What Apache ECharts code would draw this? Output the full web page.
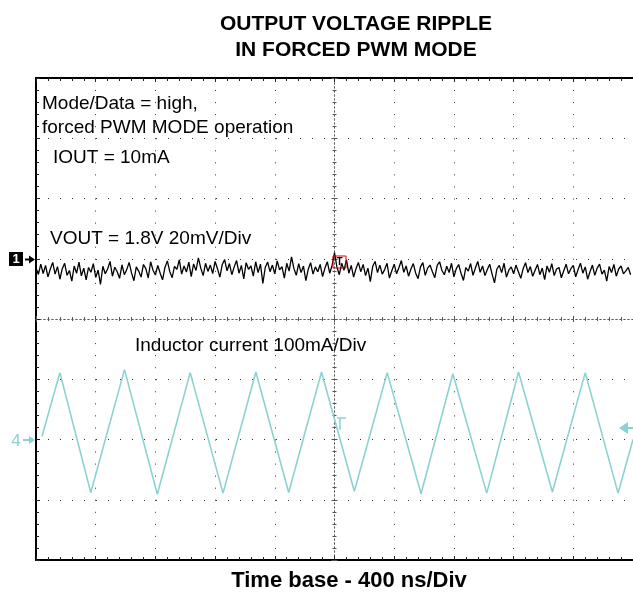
<!DOCTYPE html>
<html><head><meta charset="utf-8">
<script src="https://cdn.jsdelivr.net/npm/echarts@6/dist/echarts.min.js"></script>
<style>html,body{margin:0;padding:0;background:#fff}#c{width:633px;height:593px}</style>
</head><body><div id="c"></div>
<script>
// ---- text ----
const TITLE_LINES = ['OUTPUT VOLTAGE RIPPLE', 'IN FORCED PWM MODE'];
const X_LABEL = 'Time base - 400 ns/Div';
const NOTE_TEXTS = ['Mode/Data = high,', 'forced PWM MODE operation', 'IOUT = 10mA',
  'VOUT = 1.8V 20mV/Div', 'Inductor current 100mA/Div'];

// ---- scales ----
const TIME_PER_DIV_NS = 400;
const DIVS_X = 10;
const DIVS_Y = 8;
const VOUT_MV_PER_DIV = 20;
const IL_MA_PER_DIV = 100;

// ---- channel 1: output voltage ripple (mV vs. channel marker, one sample per 16 ns) ----
const VOUT_STEP_NS = 16;
const VOUT_MV = [
  -3.0,-5.2,-1.8,-4.9,-2.2,-6.0,-3.4,-1.2,-5.1,-2.6,-6.8,-3.3,-1.5,-5.5,-3.9,-7.4,-2.4,-4.8,-1.1,-5.7,-3.1,-7.0,-2.9,-4.5,-1.6,
  -6.2,-3.8,-8.5,-2.5,-5.0,-3.4,-0.9,-5.8,-2.8,-4.3,-6.5,-2.0,-5.3,-3.6,-1.2,-4.7,-7.3,-2.7,-4.1,-6.1,-1.9,-3.3,-6.4,-1.0,-3.8,
  -5.4,-2.2,-4.8,-7.0,-2.9,-0.7,-4.2,-6.3,-2.5,-3.5,-0.4,-5.1,-2.4,-4.4,-1.1,-5.9,-1.7,-3.9, 0.3,-3.1,-5.6,-1.5,-4.2,-2.1,-4.9,
  -0.9,-3.3,-6.1,-1.9,-0.3,-4.0,-1.6,-5.3,-2.7,-0.6,-4.8,-2.2,-6.7,-1.3,-3.5,-2.4,-5.8,-1.0,-4.6,-1.8,-8.2,-2.9,-1.1,-4.3,-2.1,
  -5.0,-0.7,-3.7,-2.6,-6.4,-1.5,-4.1, 0.6,-3.2,-5.5,-1.6,-4.6,-2.4,-7.3,-3.5,-1.3,-5.1,-2.7,-4.3,-1.9,-5.9,-3.1,-1.0,-4.8,-2.2,
   2.0,-2.7,-5.3,-1.5,-3.8,-0.4,-4.8,-2.2,-6.1,-3.3,-1.2,-4.3,-1.9,-5.6,-3.1,-7.6,-2.5,-0.9,-4.6,-2.1,-5.1,-3.6,-1.5,-6.4,-4.0,
  -1.8,-5.0,-2.9,-0.6,-4.5,-2.4,-5.8,-3.4,-1.6,-4.8,-6.6,-2.7,-1.3,-5.5,-3.1,-2.1,-4.3,-6.3,-2.2,-1.0,-3.9,-5.3,-2.5,-4.6,-1.5,
  -6.0,-3.3,-1.9,-4.8,-7.2,-2.9,-4.1,-1.6,-5.5,-3.1,-0.9,-4.5,-2.4,-5.6,-3.6,-1.8,-5.1,-8.0,-3.4,-2.2,-4.6,-1.5,-6.1,-3.8,-2.7,
  -5.0,-2.1,-4.3,-6.5,-3.3,-1.3,-4.6,-2.6,-5.8,-3.8,-1.9,-5.3,-3.1,-6.9,-2.4,-4.5,-1.6,-5.6,-3.4,-2.9,-6.3,-4.0,-1.8,-5.0,-3.3,
  -2.2,-6.0,-3.6,-1.5,-4.8,-2.7,-6.8,-4.3,-2.1,-5.5,-3.1,-1.8,-5.1,-3.8,-7.4,-2.6,-4.6,-1.9,-5.8,-3.4,-2.4,-5.0,-4.0,-2.9,-5.3
];

// ---- channel 4: inductor current (vertices of the triangle wave) ----
const IL_TIME_NS = [40, 160, 367, 593, 813, 1033, 1253, 1473, 1693, 1913, 2133, 2353, 2580, 2793, 3020, 3233, 3460, 3680, 3900, 4000];
const IL_MA      = [ 5, 111, -88, 116, -91,  111,  -89,  112,  -88,  112,  -86,  111,  -90,  109,  -89,  112,  -87,  111,  -89,    0];

// channel marker positions (divisions from screen centre)
const CH1_POS_DIV = 1.0;
const CH4_POS_DIV = -2.0;

const CYAN = '#8dd2d2';
const GRID = {left: 36, top: 78, width: 600, height: 482};

const voutData = VOUT_MV.map((v, i) => [i * VOUT_STEP_NS, CH1_POS_DIV + v / VOUT_MV_PER_DIV]);
const ilData = IL_TIME_NS.map((t, i) => [t, CH4_POS_DIV + IL_MA[i] / IL_MA_PER_DIV]);

const XMAX = TIME_PER_DIV_NS * DIVS_X;
const dotV = {color: '#333', width: 1, type: [1, 11.05]};
const dotH = {color: '#333', width: 1, type: [1, 11]};

function centerAxis(gi, inside, half) {
  return {gridIndex: gi, type: 'value', min: -half, max: half, interval: 1,
    axisLine: {show: true, onZero: true, lineStyle: {color: '#555', width: 1, type: [1, 3]}},
    axisTick: {show: true, inside: inside, length: 3, lineStyle: {color: '#555'}},
    minorTick: {show: true, splitNumber: 5, length: 2, lineStyle: {color: '#555'}},
    axisLabel: {show: false}, splitLine: {show: false}};
}

const chart = echarts.init(document.getElementById('c'), null, {renderer: 'canvas'});
const FONT = 'Liberation Sans, Arial, sans-serif';

chart.setOption({
  animation: false,
  backgroundColor: '#fff',
  title: {text: TITLE_LINES.join('\n'), left: 351, top: 6, textAlign: 'center',
    textStyle: {fontFamily: FONT, fontSize: 21, fontWeight: 'bold', color: '#000', lineHeight: 26}},
  grid: [Object.assign({}, GRID), Object.assign({}, GRID), Object.assign({}, GRID)],
  xAxis: [
    {gridIndex: 0, type: 'value', min: 0, max: XMAX, interval: TIME_PER_DIV_NS, position: 'bottom',
      axisLine: {show: true, onZero: false, lineStyle: {color: '#000', width: 2}},
      axisTick: {show: true, inside: true, length: 4, lineStyle: {color: '#222'}},
      minorTick: {show: true, splitNumber: 5, length: 3, lineStyle: {color: '#222'}},
      axisLabel: {show: false}, splitLine: {show: true, lineStyle: dotV}},
    {gridIndex: 0, type: 'value', min: 0, max: XMAX, interval: TIME_PER_DIV_NS, position: 'top',
      axisLine: {show: true, onZero: false, lineStyle: {color: '#000', width: 2}},
      axisTick: {show: true, inside: true, length: 4, lineStyle: {color: '#222'}},
      minorTick: {show: true, splitNumber: 5, length: 3, lineStyle: {color: '#222'}},
      axisLabel: {show: false}, splitLine: {show: false}},
    centerAxis(1, true, DIVS_X / 2), centerAxis(2, false, DIVS_X / 2)
  ],
  yAxis: [
    {gridIndex: 0, type: 'value', min: -DIVS_Y / 2, max: DIVS_Y / 2, interval: 1, position: 'left',
      axisLine: {show: true, onZero: false, lineStyle: {color: '#000', width: 2}},
      axisTick: {show: true, inside: true, length: 4, lineStyle: {color: '#222'}},
      minorTick: {show: true, splitNumber: 5, length: 3, lineStyle: {color: '#222'}},
      axisLabel: {show: false}, splitLine: {show: true, lineStyle: dotH}},
    centerAxis(1, true, DIVS_Y / 2), centerAxis(2, false, DIVS_Y / 2)
  ],
  series: [
    {type: 'line', xAxisIndex: 0, yAxisIndex: 0, data: ilData, symbol: 'none',
      lineStyle: {color: CYAN, width: 1.6}, z: 3},
    {type: 'line', xAxisIndex: 0, yAxisIndex: 0, data: voutData, symbol: 'none',
      lineStyle: {color: '#000', width: 1.3}, z: 4}
  ],
  graphic: [
    {type: 'text', left: 42, top: 94, style: {text: NOTE_TEXTS[0], font: '19px ' + FONT, fill: '#000'}},
    {type: 'text', left: 42, top: 118, style: {text: NOTE_TEXTS[1], font: '19px ' + FONT, fill: '#000'}},
    {type: 'text', left: 53, top: 148, style: {text: NOTE_TEXTS[2], font: '19px ' + FONT, fill: '#000'}},
    {type: 'text', left: 50, top: 229, style: {text: NOTE_TEXTS[3], font: '19px ' + FONT, fill: '#000'}},
    {type: 'text', left: 135, top: 336, style: {text: NOTE_TEXTS[4], font: '19px ' + FONT, fill: '#000'}},
    {type: 'text', x: 349, y: 581, style: {text: X_LABEL, font: 'bold 22px ' + FONT, fill: '#000', align: 'center', verticalAlign: 'middle'}},
    // channel 1 marker
    {type: 'rect', shape: {x: 9, y: 252, width: 14, height: 14}, style: {fill: '#000'}},
    {type: 'text', x: 16, y: 259.5, style: {text: '1', font: 'bold 13px ' + FONT, fill: '#fff', align: 'center', verticalAlign: 'middle'}},
    {type: 'polyline', shape: {points: [[25, 259.5], [31, 259.5]]}, style: {stroke: '#000', lineWidth: 2}},
    {type: 'polygon', shape: {points: [[35, 259.5], [29, 255.5], [29, 263.5]]}, style: {fill: '#000'}},
    // channel 4 marker
    {type: 'text', x: 16, y: 441, style: {text: '4', font: '17px ' + FONT, fill: CYAN, align: 'center', verticalAlign: 'middle'}},
    {type: 'polyline', shape: {points: [[23, 440], [31, 440]]}, style: {stroke: CYAN, lineWidth: 2}},
    {type: 'polygon', shape: {points: [[35, 440], [29, 436], [29, 444]]}, style: {fill: CYAN}},
    // trigger level arrow (right)
    {type: 'polygon', shape: {points: [[619, 428], [628, 422], [628, 434]]}, style: {fill: CYAN}},
    {type: 'polyline', shape: {points: [[627, 428], [633, 428]]}, style: {stroke: CYAN, lineWidth: 2}},
    // trigger position marker on ch1
    {type: 'rect', shape: {x: 333, y: 256, width: 13, height: 12}, style: {fill: 'none', stroke: '#d00', lineWidth: 1}, z: 10},
    {type: 'text', x: 339.5, y: 262, style: {text: 'T', font: 'bold 10px ' + FONT, fill: '#000', align: 'center', verticalAlign: 'middle'}, z: 10},
    // trigger marker on ch4
    {type: 'polyline', shape: {points: [[337, 418], [346, 418]]}, style: {stroke: CYAN, lineWidth: 1.5}},
    {type: 'polyline', shape: {points: [[340, 418], [340, 430]]}, style: {stroke: CYAN, lineWidth: 1.5}}
  ]
});
</script></body></html>
